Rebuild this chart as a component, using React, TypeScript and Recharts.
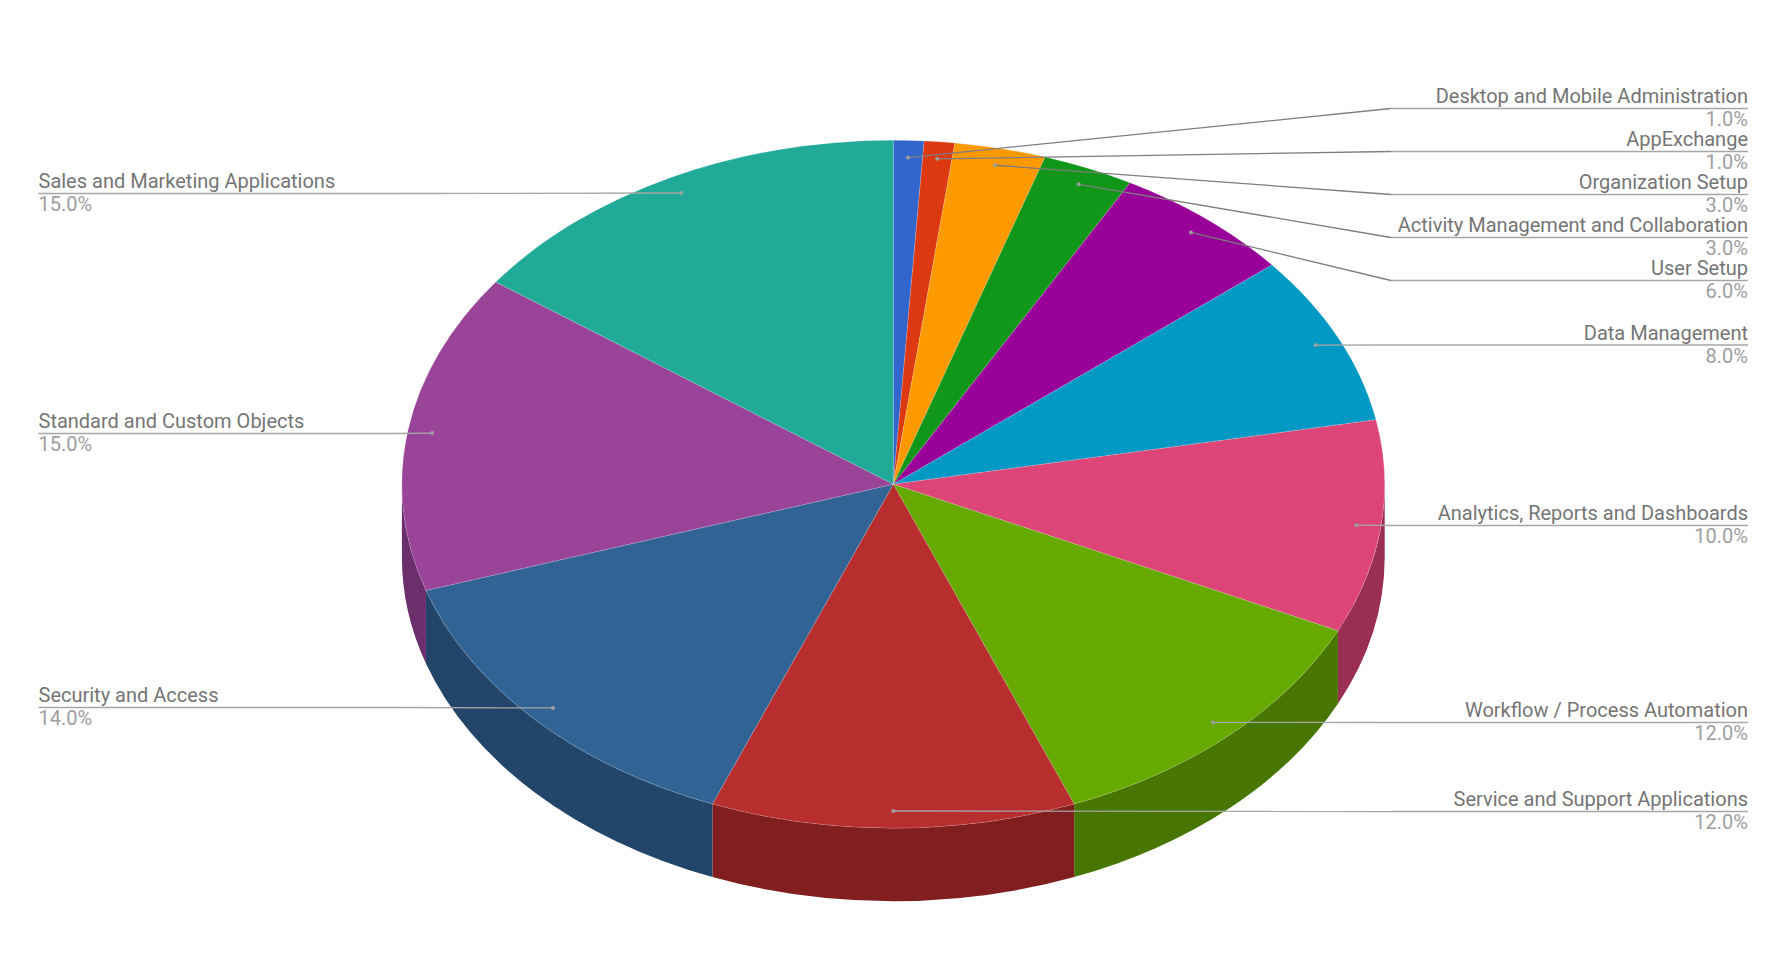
import * as React from "react";
import { PieChart, Pie } from "recharts";

const names = [
  "Desktop and Mobile Administration",
  "AppExchange",
  "Organization Setup",
  "Activity Management and Collaboration",
  "User Setup",
  "Data Management",
  "Analytics, Reports and Dashboards",
  "Workflow / Process Automation",
  "Service and Support Applications",
  "Security and Access",
  "Standard and Custom Objects",
  "Sales and Marketing Applications",
];
const shares = [1, 1, 3, 3, 6, 8, 10, 12, 12, 14, 15, 15];
const topColors = [
  "#3366cc", "#dc3912", "#ff9900", "#109618", "#990099", "#0099c6",
  "#dd4477", "#66aa00", "#b82e2e", "#316395", "#994499", "#22aa99",
];
const wallColors = [
  "#23478e", "#9a270c", "#b26b00", "#0b6910", "#6b006b", "#006b8a",
  "#9b2f53", "#477700", "#811f1f", "#224569", "#6b2f6b", "#177769",
];
// y of the horizontal part of each leader
const leaderY = [108.5, 151.5, 194.5, 237.5, 280.5, 345, 525.5, 722.5, 811.5, 707.5, 433.5, 193.5];

const slices = names.map((name, i) => ({
  name,
  value: shares[i],
  fill: topColors[i],
  wall: wallColors[i],
}));

const W = 1787;
const H = 953;
const CX = 893.3;
const CY = 484.2;
const RX = 491.4;
const SQUASH = 344 / 491.4; // tilt of the 3d disc
const DEPTH = 73;

const rad = (a: number) => (a * Math.PI) / 180;
const px = (cx: number, r: number, a: number) => cx + r * Math.cos(rad(a));
const py = (cy: number, r: number, a: number) => cy - r * SQUASH * Math.sin(rad(a));

const TopSlice = (props: any) => {
  const { cx, cy, outerRadius: r, startAngle, endAngle, fill } = props;
  const large = Math.abs(startAngle - endAngle) > 180 ? 1 : 0;
  const d = `M${cx},${cy} L${px(cx, r, startAngle)},${py(cy, r, startAngle)} A${r},${r * SQUASH} 0 ${large} 1 ${px(cx, r, endAngle)},${py(cy, r, endAngle)} Z`;
  return <path d={d} fill={fill} stroke="#ffffff" strokeOpacity={0.25} strokeWidth={0.6} />;
};

// only the part of a slice on the front half of the disc has a visible wall
const WallSlice = (props: any) => {
  const { cx, cy, outerRadius: r, startAngle, endAngle, payload } = props;
  const a = Math.min(startAngle, 0);
  const b = Math.max(endAngle, -180);
  if (a <= b) return <g />;
  const d = `M${px(cx, r, a)},${py(cy, r, a)} A${r},${r * SQUASH} 0 0 1 ${px(cx, r, b)},${py(cy, r, b)} L${px(cx, r, b)},${py(cy, r, b) + DEPTH} A${r},${r * SQUASH} 0 0 0 ${px(cx, r, a)},${py(cy, r, a) + DEPTH} Z`;
  return <path d={d} fill={payload.wall} />;
};

const SliceLabel = (props: any) => {
  const { cx, cy, outerRadius: r, midAngle, index } = props;
  const rightSide = Math.cos(rad(midAngle)) > 0;
  const ax = px(cx, r * 0.95, midAngle);
  const ay = py(cy, r * 0.95, midAngle);
  const y = leaderY[index];
  const elbow = rightSide ? 1391 : 395;
  const end = rightSide ? 1748 : 38.5;
  const anchor = rightSide ? "end" : "start";
  // level leaders read lighter than the slanted ones
  const inner = Math.abs(ay - y) < 1.5 ? "#a6a6a6" : "#7e7e7e";
  return (
    <g fontFamily="Roboto" fontSize={20}>
      <path d={`M${ax},${ay} L${elbow},${y}`} fill="none" stroke={inner} strokeWidth={1.3} />
      <path d={`M${elbow},${y} L${end},${y}`} fill="none" stroke="#a6a6a6" strokeWidth={1.3} />
      <circle cx={ax} cy={ay} r={2} fill="#9e9e9e" />
      <text x={end} y={y - 5.5} textAnchor={anchor} fill="#757575">
        {names[index]}
      </text>
      <text x={end} y={y + 17.5} textAnchor={anchor} fill="#9e9e9e">
        {shares[index].toFixed(1)}%
      </text>
    </g>
  );
};

export default function App() {
  return (
    <div style={{ position: "absolute", left: 0, top: 0, width: W, height: H, background: "#fff" }}>
      <PieChart width={W} height={H} margin={{ top: 0, right: 0, bottom: 0, left: 0 }}>
        <Pie
          data={slices}
          dataKey="value"
          nameKey="name"
          cx={CX}
          cy={CY}
          innerRadius={0}
          outerRadius={RX}
          startAngle={90}
          endAngle={-270}
          shape={WallSlice}
          stroke="none"
          isAnimationActive={false}
        />
        <Pie
          data={slices}
          dataKey="value"
          nameKey="name"
          cx={CX}
          cy={CY}
          innerRadius={0}
          outerRadius={RX}
          startAngle={90}
          endAngle={-270}
          shape={TopSlice}
          label={SliceLabel}
          labelLine={false}
          isAnimationActive={false}
        />
      </PieChart>
    </div>
  );
}
